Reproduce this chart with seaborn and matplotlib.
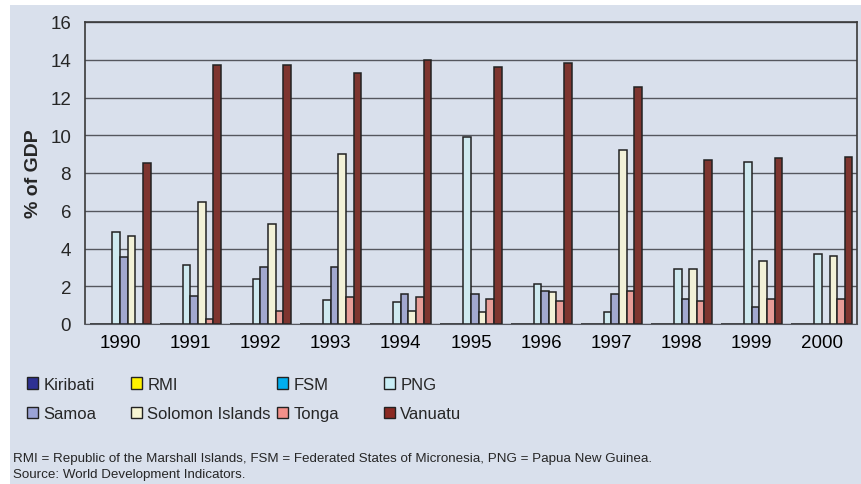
import numpy as np
import pandas as pd
import matplotlib
matplotlib.use("Agg")
import matplotlib.pyplot as plt
from matplotlib.patches import Patch, Rectangle
import seaborn as sns

# --------------------------------------
# DATA (% of GDP)
# --------------------------------------

years = ["1990", "1991", "1992", "1993", "1994", "1995",
         "1996", "1997", "1998", "1999", "2000"]

countries = ["Kiribati", "RMI", "FSM", "PNG",
             "Samoa", "Solomon Islands", "Tonga", "Vanuatu"]

kiribati = [0, 0, 0, 0, 0, 0, 0, 0, 0, 0, 0]
rmi = [0, 0, 0, 0, 0, 0, 0, 0, 0, 0, 0]
fsm = [0, 0, 0, 0, 0, 0, 0, 0, 0, 0, 0]
png = [4.85, 3.1, 2.4, 1.25, 1.15, 9.93, 2.12, 0.62, 2.9, 8.6, 3.7]
samoa = [3.53, 1.5, 3.03, 3.03, 1.6, 1.6, 1.76, 1.6, 1.32, 0.88, 0]
solomon = [4.67, 6.44, 5.29, 9.0, 0.7, 0.62, 1.68, 9.22, 2.9, 3.35, 3.62]
tonga = [0, 0.26, 0.7, 1.41, 1.41, 1.32, 1.23, 1.76, 1.23, 1.32, 1.32]
vanuatu = [8.55, 13.72, 13.72, 13.28, 13.99, 13.63, 13.81, 12.57, 8.69, 8.78, 8.87]

colors = ["#2e3192", "#fff200", "#00aeef", "#c9eef6",
          "#9ba3d6", "#f7f5d2", "#f4908a", "#8b2a22"]

footnote = ("RMI = Republic of the Marshall Islands, FSM = Federated States of "
            "Micronesia, PNG = Papua New Guinea.\nSource: World Development Indicators.")

series = [kiribati, rmi, fsm, png, samoa, solomon, tonga, vanuatu]
df = pd.DataFrame(
    [(y, c, v) for c, vals in zip(countries, series) for y, v in zip(years, vals)],
    columns=["Year", "Country", "Value"],
)

# --------------------------------------
# PLOT
# --------------------------------------

bg = "#d9e0ec"
sns.set_style("white")
plt.rcParams["font.family"] = ["Liberation Sans", "DejaVu Sans"]

fig = plt.figure(figsize=(8.62, 4.85), dpi=100, facecolor="white")
fig.patches.append(Rectangle((10 / 862, 0), 1, 1 - 6 / 485,
                             transform=fig.transFigure, facecolor=bg,
                             edgecolor="none", zorder=-10))

ax = fig.add_axes([85 / 862, 1 - 325 / 485, 772 / 862, 302 / 485])
ax.set_facecolor(bg)

sns.barplot(
    data=df, x="Year", y="Value",
    hue="Country", hue_order=countries, order=years,
    palette=colors, width=0.87, gap=0,
    edgecolor="#222222", linewidth=1.1,
    legend=False, ax=ax,
)

ax.set_ylim(0, 16)
ax.set_xlim(-0.5, 10.5)
ax.set_yticks(np.arange(0, 17, 2))
ax.yaxis.grid(True, color="#55575e", linewidth=1.0)
ax.set_axisbelow(True)

ax.set_xticks(np.arange(-0.5, 11, 1), minor=True)
ax.tick_params(axis="x", which="major", length=0, labelsize=13.5, pad=7, colors="black")
ax.tick_params(axis="x", which="minor", length=4, color="#7a4a4a", direction="out")
ax.tick_params(axis="y", length=5, color="#7a4a4a", direction="out", labelsize=13.5, pad=5)

for side in ["top", "right", "left"]:
    ax.spines[side].set_color("#3a3a3a")
    ax.spines[side].set_linewidth(1.2)
ax.spines["bottom"].set_color("#55575e")

ax.set_xlabel("")
ax.set_ylabel("% of GDP", fontsize=14, fontweight="bold", labelpad=6)

# --------------------------------------
# LEGEND (one block per column)
# --------------------------------------

col_x = [27 / 862, 131 / 862, 277 / 862, 384 / 862]
for i, x in enumerate(col_x):
    handles = [Patch(facecolor=colors[i], edgecolor="#222222", label=countries[i]),
               Patch(facecolor=colors[i + 4], edgecolor="#222222", label=countries[i + 4])]
    fig.legend(handles=handles, loc="upper left", bbox_to_anchor=(x, 1 - 378 / 485),
               frameon=False, fontsize=12, handlelength=0.68, handleheight=0.68,
               handletextpad=0.3, labelspacing=0.85, borderaxespad=0, borderpad=0)

fig.text(13 / 862, 1 - 467 / 485, footnote, fontsize=9.6, va="center",
         ha="left", linespacing=1.45)

fig.savefig("out.png", dpi=100, facecolor="white")
